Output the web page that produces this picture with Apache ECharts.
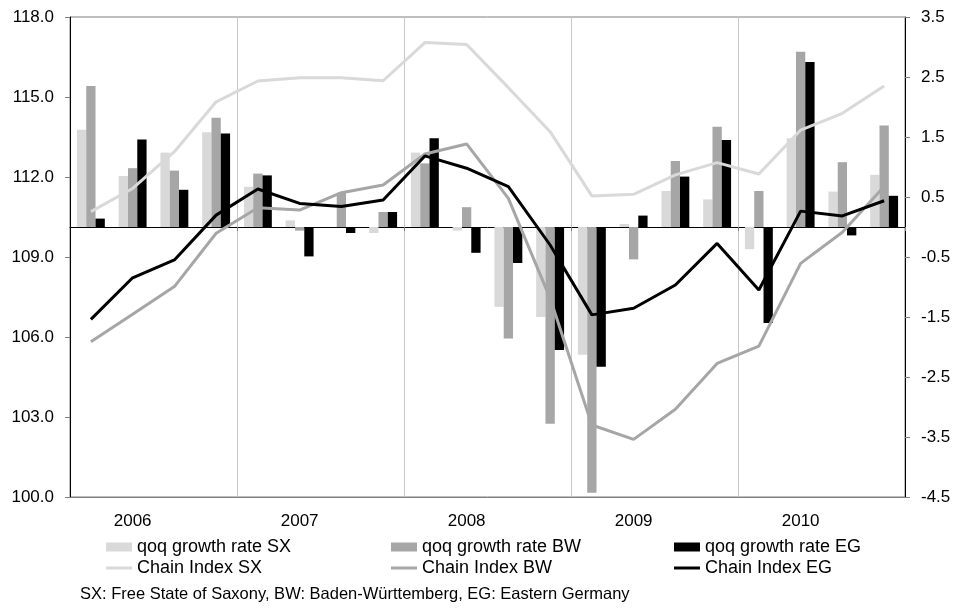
<!DOCTYPE html>
<html>
<head>
<meta charset="utf-8">
<script src="https://cdn.jsdelivr.net/npm/echarts@6/dist/echarts.min.js"></script>
<style>
html,body{margin:0;padding:0;background:#fff;}
#chart{width:954px;height:608px;}
</style>
</head>
<body>
<div id="chart"></div>
<script>
var quarters = ["2006Q1","2006Q2","2006Q3","2006Q4","2007Q1","2007Q2","2007Q3","2007Q4",
  "2008Q1","2008Q2","2008Q3","2008Q4","2009Q1","2009Q2","2009Q3","2009Q4",
  "2010Q1","2010Q2","2010Q3","2010Q4"];
var leftTicks = [100, 118, 3];
var rightTicks = [-4.5, 3.5, 1];

var qoqSX = [1.62, 0.85, 1.24, 1.58, 0.67, 0.11, 0.0, -0.10, 1.24, -0.06, -1.33, -1.50, -2.13, 0.05, 0.60, 0.46, -0.37, 1.48, 0.59, 0.87];
var qoqBW = [2.35, 0.98, 0.94, 1.82, 0.89, -0.06, 0.57, 0.25, 1.06, 0.33, -1.86, -3.28, -4.43, -0.54, 1.10, 1.67, 0.60, 2.92, 1.08, 1.69];
var qoqEG = [0.14, 1.46, 0.62, 1.56, 0.86, -0.49, -0.10, 0.25, 1.48, -0.43, -0.60, -2.05, -2.33, 0.19, 0.84, 1.45, -1.60, 2.75, -0.14, 0.52];

var chainSX = [110.70, 111.57, 112.95, 114.82, 115.60, 115.72, 115.72, 115.61, 117.04, 116.97, 115.35, 113.70, 111.29, 111.35, 112.08, 112.54, 112.11, 113.76, 114.39, 115.41];
var chainBW = [105.82, 106.85, 107.89, 109.89, 110.85, 110.76, 111.41, 111.70, 112.86, 113.24, 111.20, 107.45, 102.70, 102.16, 103.29, 105.01, 105.66, 108.76, 109.93, 111.64];
var chainEG = [106.66, 108.22, 108.89, 110.57, 111.55, 111.01, 110.89, 111.14, 112.79, 112.33, 111.64, 109.45, 106.83, 107.08, 107.95, 109.51, 107.76, 110.72, 110.54, 111.11];

var names = ["qoq growth rate SX","qoq growth rate BW","qoq growth rate EG","Chain Index SX","Chain Index BW","Chain Index EG"];
var footnote = "SX: Free State of Saxony, BW: Baden-Württemberg, EG: Eastern Germany";

var FONT = "'Liberation Sans', Arial, sans-serif";
var cSX = '#d9d9d9', cBW = '#a6a6a6', cEG = '#000000';

var chart = echarts.init(document.getElementById('chart'), null, {renderer:'canvas'});

function legendItem(name, left, top, isLine){
  return {
    data:[{name:name, icon:'rect'}], left:left, top:top, padding:0, itemGap:0,
    itemWidth:26, itemHeight: isLine ? 3 : 9,
    textStyle:{fontSize:18, color:'#000', fontFamily:FONT}
  };
}

function barSeries(name, data, color){
  return {
    name:name, type:'bar', data:data, xAxisIndex:0, yAxisIndex:1,
    barWidth:9.3, barGap:'0%', itemStyle:{color:color}, z:2
  };
}
function lineSeries(name, data, color){
  return {
    name:name, type:'line', data:data, xAxisIndex:0, yAxisIndex:0,
    symbol:'none', showSymbol:false, lineStyle:{color:color, width:3}, itemStyle:{color:color}, z:3
  };
}

var option = {
  animation:false,
  backgroundColor:'#fff',
  textStyle:{fontFamily:FONT},
  grid:{left:70, right:49, top:17, bottom:111, show:true, borderColor:'#7f7f7f', borderWidth:1, containLabel:false},
  legend:[
    legendItem(names[0], 106, 538, false),
    legendItem(names[1], 391, 538, false),
    legendItem(names[2], 674, 538, false),
    legendItem(names[3], 106, 559, true),
    legendItem(names[4], 391, 559, true),
    legendItem(names[5], 674, 559, true)
  ],
  graphic:[{
    type:'text', left:80, top:586,
    style:{text:footnote, fontSize:16.5, fontFamily:FONT, fill:'#000'}
  }],
  xAxis:[{
    type:'category', data:quarters, position:'bottom',
    axisLine:{show:true, onZero:false, lineStyle:{color:'#7f7f7f', width:1}},
    axisTick:{show:false},
    axisLabel:{
      interval:function(i){ return i % 4 === 1; },
      formatter:function(v){ return v.slice(0,4); },
      fontSize:17, color:'#000', margin:16, fontFamily:FONT
    },
    splitLine:{show:true, interval:function(i){ return i % 4 === 0 && i > 0; }, lineStyle:{color:'#c8c8c8', width:1}}
  },{
    type:'category', data:quarters, position:'bottom',
    axisLine:{show:true, onZero:true, onZeroAxisIndex:1, lineStyle:{color:'#000', width:1}},
    axisTick:{show:true, length:4, interval:function(i){ return i % 4 === 0 && i > 0; }, lineStyle:{color:'#7f7f7f'}},
    axisLabel:{show:false},
    splitLine:{show:false}
  }],
  yAxis:[{
    type:'value', position:'left', min:leftTicks[0], max:leftTicks[1], interval:leftTicks[2],
    axisLine:{show:true, lineStyle:{color:'#000', width:1}},
    axisTick:{show:true, length:5, lineStyle:{color:'#7f7f7f'}},
    axisLabel:{formatter:function(v){ return v.toFixed(1); }, fontSize:17, color:'#000', margin:16, fontFamily:FONT},
    splitLine:{show:false}
  },{
    type:'value', position:'right', min:rightTicks[0], max:rightTicks[1], interval:rightTicks[2],
    axisLine:{show:true, onZero:false, lineStyle:{color:'#000', width:1}},
    axisTick:{show:true, length:5, lineStyle:{color:'#7f7f7f'}},
    axisLabel:{formatter:function(v){ return v.toFixed(1); }, fontSize:17, color:'#000', margin:16, fontFamily:FONT},
    splitLine:{show:false}
  }],
  series:[
    barSeries(names[0], qoqSX, cSX),
    barSeries(names[1], qoqBW, cBW),
    barSeries(names[2], qoqEG, cEG),
    lineSeries(names[3], chainSX, cSX),
    lineSeries(names[4], chainBW, cBW),
    lineSeries(names[5], chainEG, cEG)
  ]
};
chart.setOption(option);
</script>
</body>
</html>
